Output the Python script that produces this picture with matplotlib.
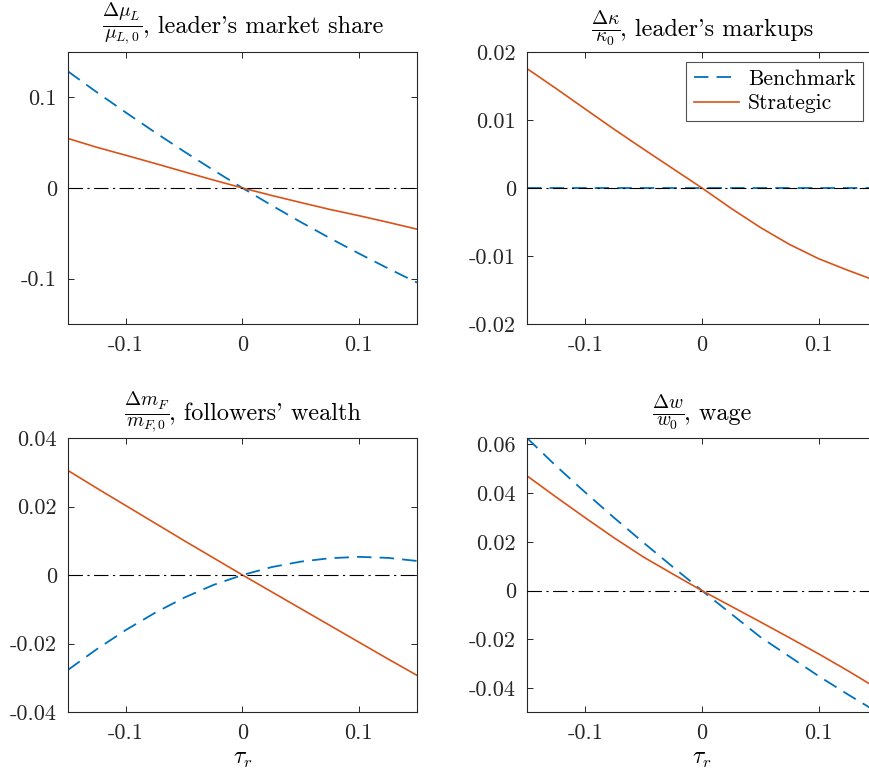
import numpy as np
import matplotlib
matplotlib.use("Agg")
import matplotlib.pyplot as plt

# Datos (tau_r en la malla de 0.025)
tau = [-0.15, -0.125, -0.1, -0.075, -0.05, -0.025, 0.0,
       0.025, 0.05, 0.075, 0.1, 0.125, 0.15]

share_bench = [0.1286, 0.1054, 0.0830, 0.0612, 0.0401, 0.0197, 0.0,
               -0.0191, -0.0375, -0.0552, -0.0722, -0.0886, -0.1043]
share_strat = [0.0546, 0.0448, 0.0360, 0.0270, 0.0178, 0.0088, 0.0,
               -0.0082, -0.0160, -0.0236, -0.0305, -0.0378, -0.0454]

markup_bench = [0.0] * 13
markup_strat = [0.01756, 0.01462, 0.01160, 0.00860, 0.00570, 0.00285, 0.0,
                -0.00300, -0.00580, -0.00830, -0.01040, -0.01210, -0.01370]

wealth_bench = [-0.0277, -0.0216, -0.0160, -0.0110, -0.0066, -0.0029, 0.0,
                0.0023, 0.0039, 0.0049, 0.0053, 0.0050, 0.0041]
wealth_strat = [0.0305, 0.0253, 0.0202, 0.0151, 0.0100, 0.0050, 0.0,
                -0.0049, -0.0098, -0.0147, -0.0196, -0.0245, -0.0293]

wage_bench = [0.0625, 0.0510, 0.0402, 0.0297, 0.0196, 0.0097, 0.0,
              -0.0095, -0.0190, -0.0270, -0.0350, -0.0425, -0.0497]
wage_strat = [0.0470, 0.0383, 0.0298, 0.0215, 0.0137, 0.0068, 0.0,
              -0.0064, -0.0128, -0.0193, -0.0259, -0.0328, -0.0400]

frac_titles = [r"$\frac{\Delta\mu_L}{\mu_{L,0}}$",
               r"$\frac{\Delta\kappa}{\kappa_0}$",
               r"$\frac{\Delta m_F}{m_{F,0}}$",
               r"$\frac{\Delta w}{w_0}$"]
word_titles = [", leader's market share",
               ", leader's markups",
               ", followers' wealth",
               ", wage"]
yticks = [[-0.1, 0, 0.1],
          [-0.02, -0.01, 0, 0.01, 0.02],
          [-0.04, -0.02, 0, 0.02, 0.04],
          [-0.04, -0.02, 0, 0.02, 0.04, 0.06]]
ylims = [(-0.15, 0.15), (-0.02, 0.02), (-0.04, 0.04), (-0.0497, 0.0625)]
xticks = [-0.1, 0, 0.1]

BLUE = "#0072BD"
ORANGE = "#D95319"
DARK = "#262626"

plt.rcParams['font.family'] = ['cmr10', 'DejaVu Serif']
plt.rcParams['mathtext.fontset'] = 'cm'
plt.rcParams['axes.unicode_minus'] = False

W, H = 870.0, 782.0
fig = plt.figure(figsize=(W / 100, H / 100), dpi=100)
# posiciones en pixeles: izquierda, arriba, ancho, alto
boxes = [(68, 52, 349, 272), (527, 52, 350, 272),
         (68, 438, 349, 274), (527, 438, 350, 274)]
title_gap = [20, 16, 18, 18]

series = [(share_bench, share_strat), (markup_bench, markup_strat),
          (wealth_bench, wealth_strat), (wage_bench, wage_strat)]

def fmt(v):
    if v == 0:
        return "0"
    return ("%.2f" % v) if abs(v) < 0.095 else ("%.1f" % v)

renderer = fig.canvas.get_renderer()

for i, (x0, y0, w, h) in enumerate(boxes):
    ax = fig.add_axes([x0 / W, 1 - (y0 + h) / H, w / W, h / H])
    bench, strat = series[i]
    ax.plot(tau, bench, color=BLUE, lw=1.3, dashes=(8, 4.5), label="Benchmark")
    ax.plot(tau, strat, color=ORANGE, lw=1.2, label="Strategic")
    ax.axhline(0, color="k", lw=0.8, dashes=(13, 4, 2, 4), zorder=3)
    ax.set_xlim(-0.15, 0.15)
    ax.set_ylim(*ylims[i])
    ax.set_xticks(xticks)
    ax.set_xticklabels([fmt(v) for v in xticks])
    ax.set_yticks(yticks[i])
    ax.set_yticklabels([fmt(v) for v in yticks[i]])
    ax.tick_params(direction="in", top=True, right=True, length=4,
                   width=0.7, colors=DARK, labelsize=16, pad=8)
    for sp in ax.spines.values():
        sp.set_color(DARK)
        sp.set_linewidth(0.8)
    if i >= 2:
        ax.set_xlabel(r"$\tau_r$", fontsize=17, color="k", labelpad=4)
    if i == 1:
        leg = ax.legend(loc="upper right", bbox_to_anchor=(0.96, 0.965),
                        fontsize=15.5, frameon=True, fancybox=False,
                        handlelength=2.1, borderpad=0.35, labelspacing=0.25,
                        handletextpad=0.4, borderaxespad=0)
        leg.get_frame().set_edgecolor(DARK)
        leg.get_frame().set_linewidth(0.8)

    # titulo: fraccion + texto, centrado sobre el eje
    tf = fig.text(0, 0, frac_titles[i], fontsize=20, ha="left", va="baseline")
    tw = fig.text(0, 0, word_titles[i], fontsize=17.5, ha="left", va="baseline")
    wf = tf.get_window_extent(renderer).width
    ww = tw.get_window_extent(renderer).width
    start = x0 + w / 2 - (wf + ww) / 2
    yb = 1 - (y0 - title_gap[i]) / H
    tf.set_position((start / W, yb))
    tw.set_position(((start + wf) / W, yb))

fig.savefig("out.png", dpi=100)
